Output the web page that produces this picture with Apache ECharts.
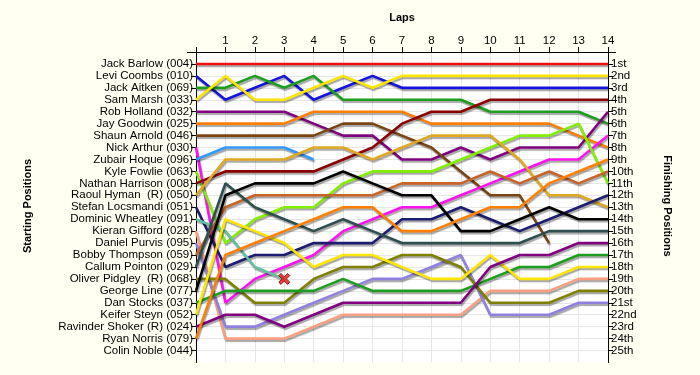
<!DOCTYPE html>
<html><head><meta charset="utf-8">
<script src="https://cdn.jsdelivr.net/npm/echarts@6/dist/echarts.min.js"></script>
<style>html,body{margin:0;padding:0;background:#FFFFF2;}#c{width:700px;height:375px;}</style>
</head><body><div id="c"></div>
<script>
const laps = [0,1,2,3,4,5,6,7,8,9,10,11,12,13,14];
const startNames = ['Jack Barlow (004)','Levi Coombs (010)','Jack Aitken (069)','Sam Marsh (033)','Rob Holland (032)','Jay Goodwin (025)','Shaun Arnold (046)','Nick Arthur (030)','Zubair Hoque (096)','Kyle Fowlie (063)','Nathan Harrison (008)','Raoul Hyman  (R) (050)','Stefan Locsmandi (051)','Dominic Wheatley (091)','Kieran Gifford (028)','Daniel Purvis (095)','Bobby Thompson (059)','Callum Pointon (029)','Oliver Pidgley  (R) (068)','George Line (077)','Dan Stocks (037)','Keifer Steyn (052)','Ravinder Shoker (R) (024)','Ryan Norris (079)','Colin Noble (044)'];
const finishLabels = ['1st','2nd','3rd','4th','5th','6th','7th','8th','9th','10th','11th','12th','13th','14th','15th','16th','17th','18th','19th','20th','21st','22nd','23rd','24th','25th'];

// positions per lap (lap 0 = start)
const jackBarlow      = [1,1,1,1,1,1,1,1,1,1,1,1,1,1,1];
const leviCoombs      = [2,4,3,2,4,3,2,3,3,3,3,3,3,3,3];
const jackAitken      = [3,3,2,3,2,4,4,4,4,4,5,5,5,5,6];
const samMarsh        = [4,2,4,4,3,2,3,2,2,2,2,2,2,2,2];
const robHolland      = [5,5,5,5,6,7,7,9,9,8,9,8,8,8,5];
const jayGoodwin      = [6,6,6,6,5,5,5,5,6,6,6,6,6,7,8];
const shaunArnold     = [7,7,7,7,7,6,6,7,8,10,12,12,16];
const nickArthur      = [8,21,19,18,17,15,14,13,13,12,11,10,9,9,7];
const zubairHoque     = [9,8,8,8,9];
const kyleFowlie      = [10,16,14,13,13,11,10,10,10,9,8,7,7,6,11];
const nathanHarrison  = [11,10,10,10,10,9,8,6,5,5,4,4,4,4,4];
const raoulHyman      = [12,9,9,9,8,8,9,8,7,7,7,9,12,12,13];
const stefanLocsmandi = [13,18,17,17,16,16,16,14,14,13,14,15,14,13,12];
const dominicWheatley = [14,15,18,19];
const kieranGifford   = [15,24,24,24,23,22,22,22,22,22,20,20,20,19,19];
const danielPurvis    = [16,23,23,22,21,20,19,19,18,17,22,22,22,21,21];
const bobbyThompson   = [17,13,12,12,12,12,12,11,11,11,10,11,10,11,10];
const callumPointon   = [18,11,13,14,15,14,15,16,16,16,16,16,15,15,15];
const oliverPidgley   = [19,19,21,21,19,18,18,17,17,18,21,21,21,20,20];
const georgeLine      = [20,12,11,11,11,10,11,12,12,15,15,14,13,14,14];
const danStocks       = [21,20,20,20,20,19,20,20,20,20,19,18,18,17,17];
const keiferSteyn     = [22,14,15,16,18,17,17,18,19,19,17,19,19,18,18];
const ravinderShoker  = [23,22,22,23,22,21,21,21,21,21,18,17,17,16,16];
const ryanNorris      = [24,17,16,15,14,13,13,15,15,14,13,13,11,10,9];

const drivers = [jackBarlow,leviCoombs,jackAitken,samMarsh,robHolland,jayGoodwin,shaunArnold,nickArthur,zubairHoque,kyleFowlie,nathanHarrison,raoulHyman,stefanLocsmandi,dominicWheatley,kieranGifford,danielPurvis,bobbyThompson,callumPointon,oliverPidgley,georgeLine,danStocks,keiferSteyn,ravinderShoker,ryanNorris];
const colors = ['#F01010','#1414E0','#1E9E1E','#FFE600','#800080','#FF8000','#7B4513','#FF10F0','#3399FF','#80F000','#8B0000','#E0A820','#1C1C70','#60C0A0','#F8A080','#9080E0','#C86428','#2F4F4F','#808000','#000000','#1E9E1E','#FFE600','#800080','#FF8000'];
const retired = [[3, dominicWheatley[3]]];

const chart = echarts.init(document.getElementById('c'), null, {renderer:'canvas'});
const FONT = '"Liberation Sans", Arial, sans-serif';
const posVals = finishLabels.map((_, i) => i + 1);

const series = drivers.map((arr, i) => ({
  type: 'line',
  name: startNames[i],
  data: arr.map((p, k) => [laps[k], p]),
  symbol: 'none',
  color: colors[i],
  lineStyle: {width: 2.6, color: colors[i], shadowColor: 'rgba(0,0,0,0.35)', shadowOffsetX: 1, shadowOffsetY: 2, shadowBlur: 1},
  z: 3
}));
series.push({
  type: 'scatter',
  data: retired,
  symbol: 'path://M0,2 L2,0 L5,3 L8,0 L10,2 L7,5 L10,8 L8,10 L5,7 L2,10 L0,8 L3,5 Z',
  symbolSize: 11,
  itemStyle: {color: '#EE1111', borderColor: '#700', borderWidth: 1},
  z: 10
});

chart.setOption({
  animation: false,
  backgroundColor: '#FFFFF2',
  grid: {left: 196, right: 92, top: 52, height: 310.5, show: true, backgroundColor: '#FFFFFF', borderWidth: 0},
  xAxis: {
    type: 'value', position: 'top', min: 0, max: 14, interval: 1,
    axisLine: {show: true, lineStyle: {color: '#000', width: 1}},
    axisTick: {show: true, length: 5, lineStyle: {color: '#000'}},
    axisLabel: {color: '#000', fontSize: 11.5, fontFamily: FONT, margin: 5, formatter: v => v === 0 ? '' : String(v)},
    splitLine: {show: true, lineStyle: {color: '#E6E6E6', width: 1}}
  },
  yAxis: [{
    type: 'value', inverse: true, min: 0, max: 26, interval: 1, position: 'left',
    axisLine: {show: true, lineStyle: {color: '#000', width: 1}},
    axisTick: {show: true, length: 5, customValues: posVals, lineStyle: {color: '#000'}},
    axisLabel: {customValues: posVals, color: '#000', fontSize: 11.5, fontFamily: FONT, margin: 3, formatter: v => startNames[v - 1] || ''},
    splitLine: {show: true, lineStyle: {color: '#E6E6E6', width: 1}}
  }, {
    type: 'value', inverse: true, min: 0, max: 26, interval: 1, position: 'right',
    axisLine: {show: true, lineStyle: {color: '#000', width: 1}},
    axisTick: {show: true, length: 5, customValues: posVals, lineStyle: {color: '#000'}},
    axisLabel: {customValues: posVals, color: '#000', fontSize: 11.5, fontFamily: FONT, margin: 3, formatter: v => finishLabels[v - 1] || ''},
    splitLine: {show: false}
  }],
  graphic: [
    {type: 'line', shape: {x1: 187, y1: 52.5, x2: 616, y2: 52.5}, style: {stroke: '#000', lineWidth: 1}, z: 100},
    {type: 'text', x: 402, y: 18, style: {text: 'Laps', font: 'bold 11px ' + FONT, fill: '#000', align: 'center', verticalAlign: 'middle'}},
    {type: 'text', x: 28, y: 206, rotation: Math.PI / 2, style: {text: 'Starting Positions', font: 'bold 11px ' + FONT, fill: '#000', align: 'center', verticalAlign: 'middle'}},
    {type: 'text', x: 667, y: 206, rotation: -Math.PI / 2, style: {text: 'Finishing Positions', font: 'bold 11px ' + FONT, fill: '#000', align: 'center', verticalAlign: 'middle'}}
  ],
  series: series
});
</script></body></html>
